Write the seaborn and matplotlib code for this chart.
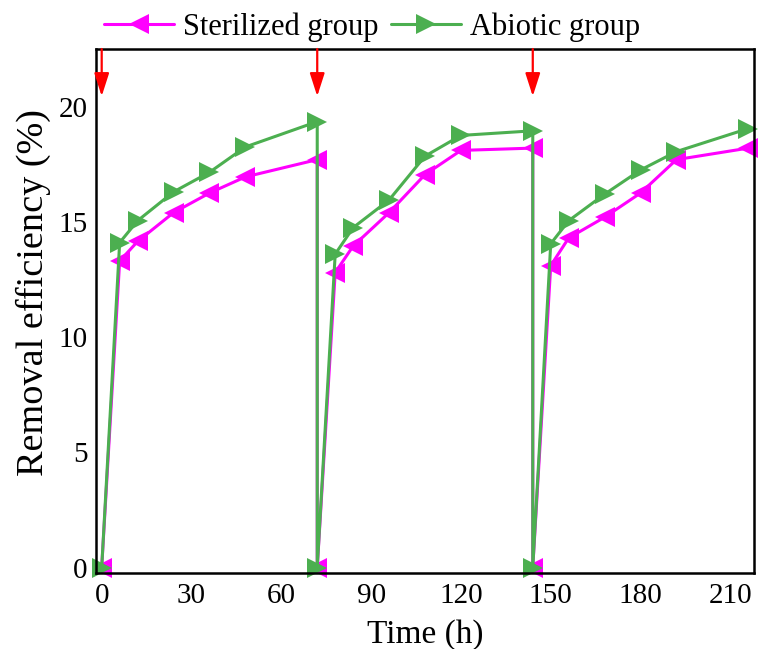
import matplotlib
matplotlib.use("Agg")
import matplotlib.pyplot as plt
import seaborn as sns
import pandas as pd

# ---- data ----
time_h = [0, 6, 12, 24, 36, 48, 72, 72, 78, 84, 96, 108, 120, 144,
          144, 150, 156, 168, 180, 192, 216]
sterilized = [0, 13.3, 14.15, 15.4, 16.25, 16.95, 17.7,
              0, 12.8, 13.95, 15.4, 17.05, 18.1, 18.2,
              0, 13.1, 14.3, 15.2, 16.25, 17.7, 18.2]
abiotic = [0, 14.1, 15.05, 16.3, 17.15, 18.25, 19.35,
           0, 13.6, 14.75, 15.95, 17.85, 18.75, 18.95,
           0, 14.05, 15.05, 16.2, 17.25, 18.05, 19.05]
arrow_times = [0, 72, 144]
x_ticks = [0, 30, 60, 90, 120, 150, 180, 210]
y_ticks = [0, 5, 10, 15, 20]

sns.set_style("white")
plt.rcParams["font.family"] = ["Liberation Serif", "DejaVu Serif"]
plt.rcParams["text.color"] = "black"
plt.rcParams["axes.labelcolor"] = "black"
plt.rcParams["xtick.color"] = "black"
plt.rcParams["ytick.color"] = "black"

df = pd.DataFrame({"time": time_h, "Sterilized group": sterilized,
                   "Abiotic group": abiotic})

fig = plt.figure(figsize=(7.59, 6.49), dpi=100)
ax = fig.add_axes([0.1261, 0.1166, 0.9938 - 0.1261, 0.9245 - 0.1166])

sns.lineplot(data=df, x="time", y="Sterilized group", ax=ax, sort=False,
             estimator=None, color="#FF00FF", marker="<", markersize=14,
             markeredgewidth=0, linewidth=2.2, label="Sterilized group",
             clip_on=False)
sns.lineplot(data=df, x="time", y="Abiotic group", ax=ax, sort=False,
             estimator=None, color="#4CAF50", marker=">", markersize=14,
             markeredgewidth=0, linewidth=2.2, label="Abiotic group",
             clip_on=False)

ax.set_xlim(-2, 218)
ax.set_ylim(-0.25, 22.5)
ax.set_xticks(x_ticks)
ax.set_yticks(y_ticks)

for t in arrow_times:
    ax.annotate("", xy=(t, 20.45), xytext=(t, 22.5),
                arrowprops=dict(arrowstyle="-|>,head_length=14,head_width=4.5",
                                mutation_scale=1, color="#FF0000", lw=1.6,
                                shrinkA=0, shrinkB=0))

for s in ax.spines.values():
    s.set_linewidth(1.8)
    s.set_color("black")
ax.tick_params(axis="both", direction="in", length=5, width=1.6,
               labelsize=21, colors="black", top=False, right=False)
ax.tick_params(axis="x", pad=7)
ax.tick_params(axis="y", pad=6)

ax.set_xlabel("Time (h)", fontsize=24, labelpad=7)
ax.set_ylabel("Removal efficiency (%)", fontsize=27.5)
ax.yaxis.set_label_coords(-0.068, 0.536)

leg = ax.legend(loc="center", bbox_to_anchor=(372 / 759, 1 - 27 / 649),
                bbox_transform=fig.transFigure, ncol=2, frameon=False,
                fontsize=22, handlelength=2.3, handletextpad=0.3,
                columnspacing=0.4, borderpad=0, numpoints=1)
for txt in leg.get_texts():
    txt.set_color("black")

fig.savefig("out.png", dpi=100)
